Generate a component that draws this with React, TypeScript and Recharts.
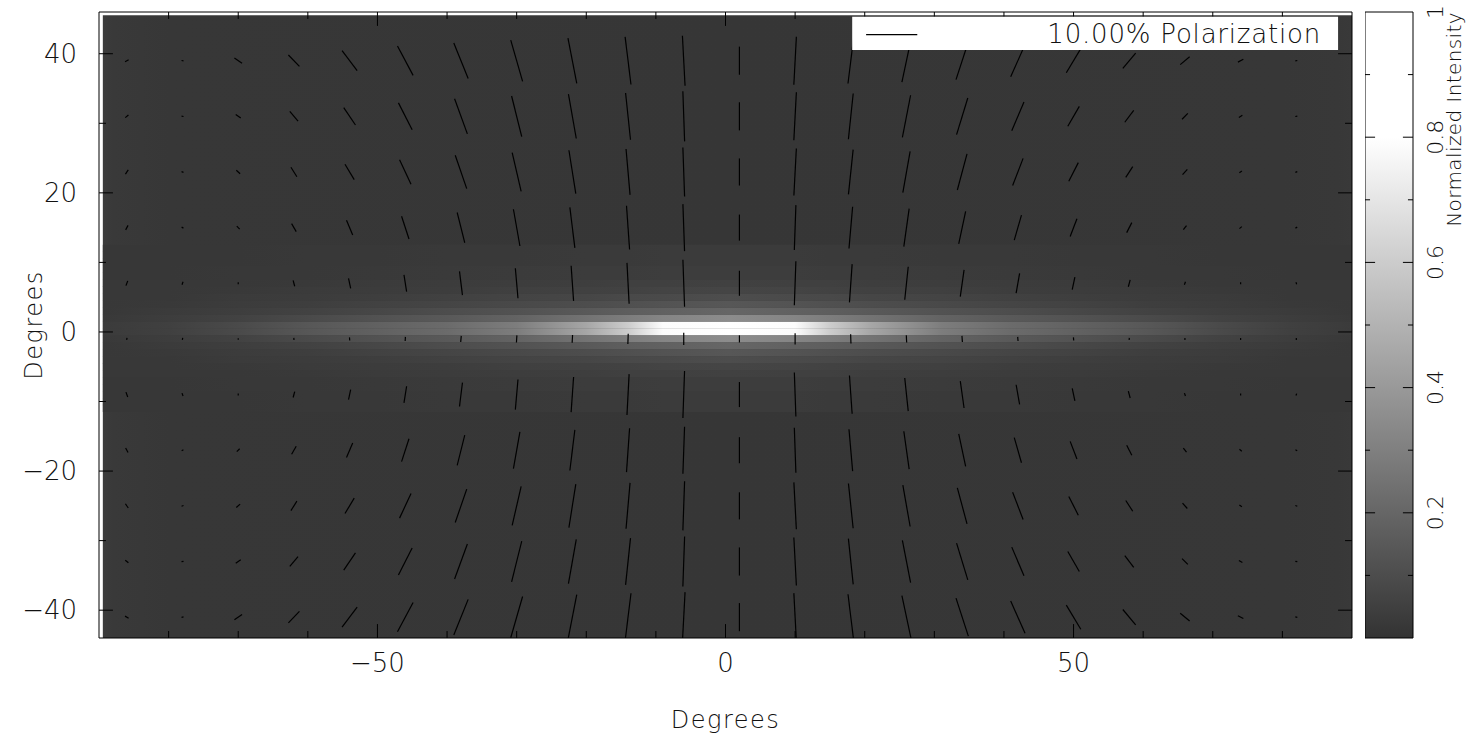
import React from 'react';
import { ComposedChart, XAxis, YAxis, ReferenceArea, ReferenceLine } from 'recharts';

// ---------- axes ----------
const X_DOMAIN = [-90, 90];
const Y_DOMAIN = [-44, 46];
const X_TICKS = [-50, 0, 50];
const Y_TICKS = [-40, -20, 0, 20, 40];
const X_MINOR = [-80, -70, -60, -40, -30, -20, -10, 10, 20, 30, 40, 60, 70, 80];
const Y_MINOR = [-30, -10, 10, 30];
const IMG_X = [-89.45, 90];
const IMG_Y = [-44, 45.55];

// ---------- intensity image (normalized intensity) ----------
const BG_X = [-89.45, -88, -80, 0, 80, 88, 90];
const BG_V = [0.035, 0.022, 0.015, 0.012, 0.015, 0.02, 0.024];

const BAND_X = [-89.45, -80, -70, -60, -50, -40, -30, -20, -14, -9, 0.5, 10, 15, 21, 31, 41, 51, 61, 71, 81, 90];
const BAND_ROW_Y = [[0, 1], [2, -1], [3, -2], [4, -3], [5, -4], [6, -5], [7, -6], [8, 9, -7, -8], [10, 11, 12, -9, -10, -11]];
const BAND_ROW_V = [
  [0.03, 0.05, 0.09, 0.14, 0.18, 0.22, 0.29, 0.45, 0.6, 0.79, 1.0, 0.79, 0.6, 0.45, 0.29, 0.22, 0.18, 0.14, 0.09, 0.05, 0.03],
  [0.025, 0.04, 0.06, 0.09, 0.12, 0.15, 0.19, 0.25, 0.29, 0.32, 0.35, 0.32, 0.29, 0.25, 0.19, 0.15, 0.12, 0.09, 0.06, 0.04, 0.025],
  [0.02, 0.03, 0.045, 0.06, 0.08, 0.1, 0.12, 0.15, 0.17, 0.18, 0.2, 0.18, 0.17, 0.15, 0.12, 0.1, 0.08, 0.06, 0.045, 0.03, 0.02],
  [0.02, 0.025, 0.035, 0.045, 0.06, 0.07, 0.085, 0.1, 0.115, 0.125, 0.14, 0.125, 0.115, 0.1, 0.085, 0.07, 0.06, 0.045, 0.035, 0.025, 0.02],
  [0.02, 0.02, 0.03, 0.035, 0.045, 0.055, 0.065, 0.075, 0.085, 0.09, 0.1, 0.09, 0.085, 0.075, 0.065, 0.055, 0.045, 0.035, 0.03, 0.02, 0.02],
  [0.02, 0.02, 0.025, 0.03, 0.035, 0.04, 0.05, 0.055, 0.06, 0.065, 0.07, 0.065, 0.06, 0.055, 0.05, 0.04, 0.035, 0.03, 0.025, 0.02, 0.02],
  [0.018, 0.018, 0.02, 0.025, 0.03, 0.035, 0.04, 0.045, 0.05, 0.05, 0.055, 0.05, 0.05, 0.045, 0.04, 0.035, 0.03, 0.025, 0.02, 0.018, 0.018],
  [0.017, 0.017, 0.018, 0.02, 0.025, 0.028, 0.03, 0.035, 0.035, 0.04, 0.04, 0.04, 0.035, 0.035, 0.03, 0.028, 0.025, 0.02, 0.018, 0.017, 0.017],
  [0.016, 0.016, 0.016, 0.018, 0.02, 0.022, 0.025, 0.027, 0.028, 0.03, 0.03, 0.03, 0.028, 0.027, 0.025, 0.022, 0.02, 0.018, 0.016, 0.016, 0.016],
];

// ---------- polarization vectors ----------
const VEC_X = [-86, -78, -70, -62, -54, -46, -38, -30, -22, -14, -6, 2, 10, 18, 26, 34, 42, 50, 58, 66, 74, 82];
const VEC_Y = [39, 31, 23, 15, 7, -1, -9, -17, -25, -33, -41];
// polarization in percent
const VEC_PCT = [
  [0.8, 0.4, 1.8, 3.1, 4.9, 6.5, 7.5, 8.4, 9.0, 9.4, 9.8, 5.5, 9.4, 9.0, 8.6, 7.8, 6.9, 5.5, 3.9, 2.4, 1.2, 0.4],
  [0.8, 0.4, 1.2, 2.5, 4.1, 5.9, 7.3, 8.2, 8.8, 9.2, 9.8, 5.5, 9.4, 9.0, 8.4, 7.5, 6.1, 4.5, 2.9, 1.6, 0.8, 0.4],
  [1.0, 0.4, 1.0, 2.2, 3.5, 5.3, 6.9, 7.8, 8.6, 9.0, 9.6, 5.3, 9.2, 8.8, 8.2, 7.3, 5.7, 4.1, 2.5, 1.4, 0.6, 0.4],
  [1.0, 0.4, 0.8, 1.8, 3.1, 4.7, 6.1, 7.3, 8.0, 8.6, 9.2, 5.1, 8.8, 8.2, 7.5, 6.5, 5.1, 3.7, 2.2, 1.0, 0.6, 0.4],
  [1.0, 0.6, 0.4, 1.2, 2.0, 3.3, 4.7, 5.9, 6.9, 8.0, 9.2, 4.9, 8.6, 7.5, 6.5, 5.3, 3.9, 2.5, 1.4, 0.6, 0.4, 0.4],
  [0.4, 0.4, 0.3, 0.4, 0.6, 0.8, 1.2, 1.4, 1.5, 2.0, 2.4, 1.4, 2.2, 1.8, 1.4, 1.2, 0.8, 0.6, 0.4, 0.4, 0.4, 0.4],
  [1.0, 0.6, 0.4, 1.2, 2.0, 3.3, 4.7, 5.9, 6.9, 8.0, 9.2, 4.9, 8.6, 7.5, 6.5, 5.3, 3.9, 2.5, 1.4, 0.6, 0.4, 0.4],
  [1.0, 0.4, 0.8, 1.8, 3.1, 4.7, 6.1, 7.3, 8.0, 8.6, 9.2, 5.1, 8.8, 8.2, 7.5, 6.5, 5.1, 3.7, 2.2, 1.0, 0.6, 0.4],
  [1.0, 0.4, 1.0, 2.2, 3.5, 5.3, 6.9, 7.8, 8.6, 9.0, 9.6, 5.3, 9.2, 8.8, 8.2, 7.3, 5.7, 4.1, 2.5, 1.4, 0.6, 0.4],
  [0.8, 0.4, 1.2, 2.5, 4.1, 5.9, 7.3, 8.2, 8.8, 9.2, 9.8, 5.5, 9.4, 9.0, 8.4, 7.5, 6.1, 4.5, 2.9, 1.6, 0.8, 0.4],
  [0.8, 0.4, 1.8, 3.1, 4.9, 6.5, 7.5, 8.4, 9.0, 9.4, 9.8, 5.5, 9.4, 9.0, 8.6, 7.8, 6.9, 5.5, 3.9, 2.4, 1.2, 0.4],
];
// angle from vertical in degrees, positive = top leaning right
const VEC_ANG = [
  [60, -80, -56, -44, -37, -28, -22, -16, -11, -7, -3, 0, 3, 7, 12, 18, 24, 31, 40, 50, 62, 80],
  [50, -80, -55, -40, -34, -27, -20, -14, -10, -6, -2, 0, 3, 6, 11, 17, 23, 30, 37, 45, 58, 80],
  [34, -70, -48, -32, -31, -25, -19, -13, -9, -5, -2, 0, 3, 6, 10, 15, 21, 27, 33, 42, 55, 70],
  [28, -60, -45, -30, -23, -18, -14, -10, -7, -4, -2, 0, 2, 5, 8, 12, 16, 21, 27, 38, 50, 60],
  [20, 20, 0, -15, -12, -9, -7, -5, -4, -3, -2, 0, 2, 4, 6, 8, 10, 12, 15, 20, 0, -20],
  [10, 10, 0, -5, -5, 3, 5, 4, 3, 2, 0, 0, 0, -2, -3, -4, -5, -5, 5, 0, 0, 0],
  [-20, -20, 0, 15, 12, 9, 7, 5, 4, 3, 2, 0, -2, -4, -6, -8, -10, -12, -15, -20, 0, 20],
  [-28, 60, 45, 30, 23, 18, 14, 10, 7, 4, 2, 0, -2, -5, -8, -12, -16, -21, -27, -38, -50, -60],
  [-34, 70, 48, 32, 31, 25, 19, 13, 9, 5, 2, 0, -3, -6, -10, -15, -21, -27, -33, -42, -55, -70],
  [-50, 80, 55, 40, 34, 27, 20, 14, 10, 6, 2, 0, -3, -6, -11, -17, -23, -30, -37, -45, -58, -80],
  [-60, 80, 56, 44, 37, 28, 22, 16, 11, 7, 3, 0, -3, -7, -12, -18, -24, -31, -40, -50, -62, -80],
];
const POL_SCALE = 0.735; // degrees of arc per 1% polarization
const LEGEND_PCT = 10;

// ---------- colour bar ----------
const CBAR_TICKS = [0.2, 0.4, 0.6, 0.8, 1];
const CBAR_MINOR = [0.1, 0.3, 0.5, 0.7, 0.9];
const CMAP_V = [0, 0.8, 1];
const CMAP_G = [51, 255, 255];

const FONT = '"DejaVu Sans", "Liberation Sans", sans-serif';
const TEXT_FILL = '#111';

function gray(v: number): string {
  let g = CMAP_G[CMAP_G.length - 1];
  for (let i = 0; i < CMAP_V.length - 1; i++) {
    if (v <= CMAP_V[i + 1]) {
      const t = Math.max(0, (v - CMAP_V[i]) / (CMAP_V[i + 1] - CMAP_V[i]));
      g = CMAP_G[i] + t * (CMAP_G[i + 1] - CMAP_G[i]);
      break;
    }
  }
  const h = Math.round(Math.min(255, Math.max(0, g))).toString(16).padStart(2, '0');
  return `#${h}${h}${h}`;
}

const fmtNum = (v: number) => String(v).replace('-', '\u2212');

function hGradient(id: string, xs: number[], vs: number[]) {
  const span = IMG_X[1] - IMG_X[0];
  return (
    <linearGradient id={id} key={id} x1="0" y1="0" x2="1" y2="0">
      {xs.map((x, i) => (
        <stop key={i} offset={(x - IMG_X[0]) / span} stopColor={gray(vs[i])} />
      ))}
    </linearGradient>
  );
}

function CbarTick(props: any) {
  const { x, y, payload } = props;
  return (
    <text x={x} y={y} transform={`rotate(-90 ${x} ${y})`} textAnchor="middle" fontSize={22}
      fontFamily={FONT} fontWeight={200} fill={TEXT_FILL}>
      {String(payload.value)}
    </text>
  );
}

export default function App() {
  const vectors: React.ReactNode[] = [];
  VEC_Y.forEach((y, r) => {
    VEC_X.forEach((x, c) => {
      const half = (VEC_PCT[r][c] * POL_SCALE) / 2;
      const a = (VEC_ANG[r][c] * Math.PI) / 180;
      const dx = half * Math.sin(a);
      const dy = half * Math.cos(a);
      vectors.push(
        <ReferenceLine key={`v${r}-${c}`} segment={[{ x: x - dx, y: y - dy }, { x: x + dx, y: y + dy }]}
          stroke="#000" strokeWidth={1.2} ifOverflow="hidden" zIndex={20} />
      );
    });
  });

  const ticks: React.ReactNode[] = [];
  const addX = (v: number, len: number) => {
    ticks.push(<ReferenceLine key={`xb${v}`} segment={[{ x: v, y: Y_DOMAIN[0] }, { x: v, y: Y_DOMAIN[0] + len }]} stroke="#000" strokeWidth={1} zIndex={30} />);
    ticks.push(<ReferenceLine key={`xt${v}`} segment={[{ x: v, y: Y_DOMAIN[1] }, { x: v, y: Y_DOMAIN[1] - len }]} stroke="#000" strokeWidth={1} zIndex={30} />);
  };
  const addY = (v: number, len: number) => {
    ticks.push(<ReferenceLine key={`yl${v}`} segment={[{ x: X_DOMAIN[0], y: v }, { x: X_DOMAIN[0] + len, y: v }]} stroke="#000" strokeWidth={1} zIndex={30} />);
    ticks.push(<ReferenceLine key={`yr${v}`} segment={[{ x: X_DOMAIN[1], y: v }, { x: X_DOMAIN[1] - len, y: v }]} stroke="#000" strokeWidth={1} zIndex={30} />);
  };
  X_TICKS.forEach((v) => addX(v, 2));
  X_MINOR.forEach((v) => addX(v, 1));
  Y_TICKS.forEach((v) => addY(v, 2));
  Y_MINOR.forEach((v) => addY(v, 1));

  const bandRects: React.ReactNode[] = [];
  BAND_ROW_Y.forEach((ys, g) => {
    ys.forEach((yc) => {
      bandRects.push(
        <ReferenceArea key={`b${g}-${yc}`} x1={IMG_X[0]} x2={IMG_X[1]} y1={yc - 0.52} y2={yc + 0.52}
          fill={`url(#band${g})`} fillOpacity={1} stroke="none" zIndex={11} />
      );
    });
  });

  const cbTicks: React.ReactNode[] = [];
  const addCb = (v: number, len: number) => {
    cbTicks.push(<ReferenceLine key={`cl${v}`} segment={[{ x: 0, y: v }, { x: len, y: v }]} stroke="#000" strokeWidth={1} zIndex={30} />);
    cbTicks.push(<ReferenceLine key={`cr${v}`} segment={[{ x: 1, y: v }, { x: 1 - len, y: v }]} stroke="#000" strokeWidth={1} zIndex={30} />);
  };
  CBAR_TICKS.filter((v) => v < 1).forEach((v) => addCb(v, 0.21));
  CBAR_MINOR.forEach((v) => addCb(v, 0.105));

  const legendX0 = 20.2;
  const legendY = 42.75;

  return (
    <div style={{ position: 'absolute', left: 0, top: 0, width: 1470, height: 742, background: '#fff' }}>
      <div style={{ position: 'absolute', left: 0, top: 0 }}>
        <ComposedChart width={1470} height={742} margin={{ top: 12, right: 118, bottom: 0, left: 0 }}>
          <defs>
            {hGradient('bg', BG_X, BG_V)}
            {BAND_ROW_V.map((vs, g) => hGradient(`band${g}`, BAND_X, vs))}
          </defs>
          <XAxis type="number" dataKey="x" domain={X_DOMAIN} ticks={X_TICKS} allowDataOverflow height={104}
            tickSize={0} tickMargin={16} axisLine={false} tickLine={false} tickFormatter={fmtNum}
            tick={{ fontSize: 26, fontFamily: FONT, fontWeight: 200, fill: TEXT_FILL }}
            label={{
              value: 'Degrees',
              content: (p: any) => {
                const vb = p.viewBox || { x: 99, y: 638, width: 1253, height: 104 };
                return (
                  <text x={vb.x + vb.width / 2} y={vb.y + 90} textAnchor="middle" fontSize={24} letterSpacing={1.5}
                    fontFamily={FONT} fontWeight={200} fill={TEXT_FILL}>Degrees</text>
                );
              },
            }} />
          <YAxis type="number" dataKey="y" domain={Y_DOMAIN} ticks={Y_TICKS} allowDataOverflow width={99}
            tickSize={0} tickMargin={22} axisLine={false} tickLine={false} tickFormatter={fmtNum}
            tick={{ fontSize: 26, fontFamily: FONT, fontWeight: 200, fill: TEXT_FILL }}
            label={{
              value: 'Degrees',
              content: (p: any) => {
                const vb = p.viewBox || { x: 0, y: 12, width: 99, height: 626 };
                const x = vb.x + 42;
                const y = vb.y + vb.height / 2;
                return (
                  <text x={x} y={y} transform={`rotate(-90 ${x} ${y})`} textAnchor="middle" fontSize={24} letterSpacing={1.5}
                    fontFamily={FONT} fontWeight={200} fill={TEXT_FILL}>Degrees</text>
                );
              },
            }} />
          <ReferenceArea x1={IMG_X[0]} x2={IMG_X[1]} y1={IMG_Y[0]} y2={IMG_Y[1]} fill="url(#bg)" fillOpacity={1}
            stroke="none" zIndex={10} />
          {bandRects}
          {vectors}
          {ticks}
          <ReferenceArea x1={X_DOMAIN[0]} x2={X_DOMAIN[1]} y1={Y_DOMAIN[0]} y2={Y_DOMAIN[1]} fill="none"
            stroke="#000" strokeWidth={1} zIndex={31} />
          <ReferenceArea x1={18.2} x2={88.0} y1={40.55} y2={45.3} fill="#fff" fillOpacity={1} stroke="none" zIndex={40}
            label={{ value: '10.00% Polarization', position: 'insideRight', offset: 17, fontSize: 26, letterSpacing: 0.8, fontFamily: FONT, fontWeight: 200, fill: TEXT_FILL }} />
          <ReferenceLine segment={[{ x: legendX0, y: legendY }, { x: legendX0 + LEGEND_PCT * POL_SCALE, y: legendY }]}
            stroke="#000" strokeWidth={1.2} zIndex={41} />
        </ComposedChart>
      </div>
      <div style={{ position: 'absolute', left: 1365, top: 0 }}>
        <ComposedChart width={105} height={742} margin={{ top: 12, right: 0, bottom: 104, left: 0 }}>
          <defs>
            <linearGradient id="cbar" x1="0" y1="1" x2="0" y2="0">
              {CMAP_V.map((v, i) => (
                <stop key={i} offset={v} stopColor={gray(v)} />
              ))}
            </linearGradient>
          </defs>
          <XAxis type="number" dataKey="x" domain={[0, 1]} hide allowDataOverflow />
          <YAxis type="number" dataKey="y" orientation="right" domain={[0, 1]} ticks={CBAR_TICKS} allowDataOverflow
            width={57} tickSize={0} tickMargin={30} axisLine={false} tickLine={false} tick={<CbarTick />}
            label={{
              value: 'Normalized Intensity',
              content: (p: any) => {
                const vb = p.viewBox || { x: 48, y: 12, width: 57, height: 626 };
                const x = vb.x + 48;
                const y = vb.y;
                return (
                  <text x={x} y={y} transform={`rotate(-90 ${x} ${y})`} textAnchor="end" fontSize={20} letterSpacing={0.4}
                    fontFamily={FONT} fontWeight={200} fill={TEXT_FILL}>Normalized Intensity</text>
                );
              },
            }} />
          <ReferenceArea x1={0} x2={1} y1={0} y2={1} fill="url(#cbar)" fillOpacity={1} stroke="#000" strokeWidth={1} zIndex={10} />
          {cbTicks}
        </ComposedChart>
      </div>
    </div>
  );
}
